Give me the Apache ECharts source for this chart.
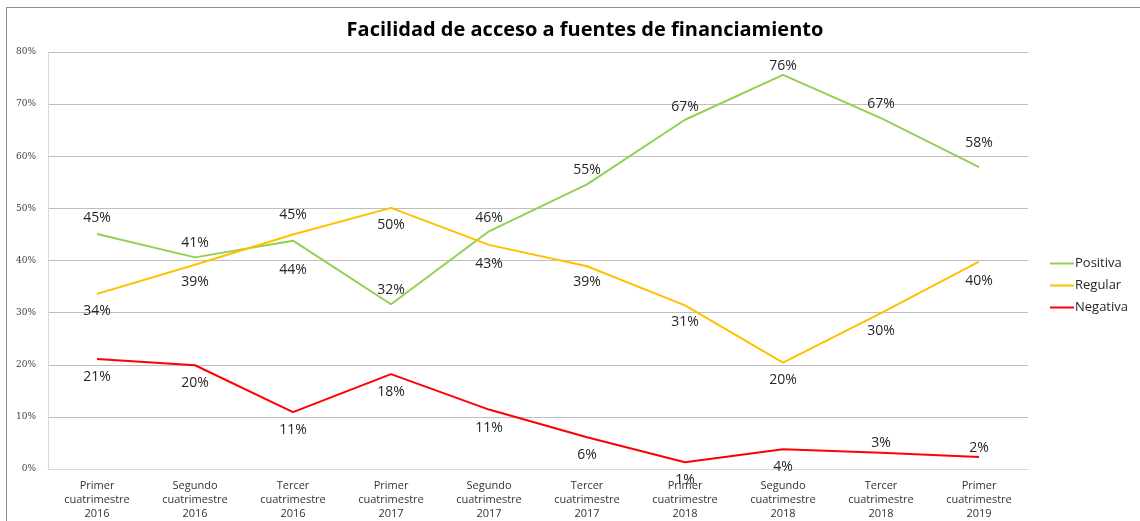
<!DOCTYPE html>
<html lang="es">
    <head>
        <meta charset="UTF-8" />
        <title>Facilidad de acceso a fuentes de financiamiento</title>
        <script src="https://cdn.jsdelivr.net/npm/echarts@6/dist/echarts.min.js"></script>
        <style>
            html, body { margin: 0; padding: 0; background: #fff; overflow: hidden; }
            .frame {
                position: absolute; left: 6px; top: 7px; width: 1300px; height: 700px;
                border-top: 1px solid #8c8c8c; border-left: 1px solid #8c8c8c;
            }
            #chart { position: absolute; left: 0; top: 0; width: 1140px; height: 521px; }
        </style>
    </head>
    <body>
        <div class="frame"></div>
        <div id="chart"></div>

        <script>
            var categories = [
                'Primer\ncuatrimestre\n2016',
                'Segundo\ncuatrimestre\n2016',
                'Tercer\ncuatrimestre\n2016',
                'Primer\ncuatrimestre\n2017',
                'Segundo\ncuatrimestre\n2017',
                'Tercer\ncuatrimestre\n2017',
                'Primer\ncuatrimestre\n2018',
                'Segundo\ncuatrimestre\n2018',
                'Tercer\ncuatrimestre\n2018',
                'Primer\ncuatrimestre\n2019'
            ];
            var positiva = [45.1, 40.6, 43.8, 31.6, 45.6, 54.6, 67.0, 75.6, 67.3, 57.9];
            var regular = [33.6, 39.2, 45.0, 50.1, 43.0, 38.9, 31.4, 20.4, 29.9, 39.8];
            var negativa = [21.1, 19.9, 10.9, 18.2, 11.4, 6.1, 1.3, 3.8, 3.1, 2.3];
            var yTicks = [0, 10, 20, 30, 40, 50, 60, 70, 80];

            // where each value label sits (above / below the point) and how far from it
            var posLabels = ['top', 'top', 'bottom', 'top', 'top', 'top', 'top', 'top', 'top', 'top'];
            var posGap = [9, 7, 22, 7, 6, 7, 6, 2, 7, 17];
            var regLabels = ['bottom', 'bottom', 'top', 'bottom', 'bottom', 'bottom', 'bottom', 'bottom', 'bottom', 'bottom'];
            var regGap = [10, 10, 12, 10, 12, 9, 10, 10, 11, 12];
            var negLabels = ['bottom', 'bottom', 'bottom', 'bottom', 'bottom', 'bottom', 'bottom', 'bottom', 'top', 'top'];
            var negGap = [11, 11, 11, 11, 11, 11, 11, 11, 3, 2];

            function withLabels(values, places, gaps) {
                return values.map(function (v, i) {
                    return { value: v, label: { position: places[i], distance: gaps[i] } };
                });
            }

            function lineSeries(name, color, values, places, gaps) {
                return {
                    name: name,
                    type: 'line',
                    data: withLabels(values, places, gaps),
                    symbol: 'circle',
                    symbolSize: 0.01,
                    showSymbol: true,
                    lineStyle: { color: color, width: 2 },
                    itemStyle: { color: color },
                    label: {
                        show: true,
                        color: '#262626',
                        fontSize: 14,
                        fontFamily: 'Open Sans',
                        formatter: function (p) {
                            return Math.round(p.value) + '%';
                        }
                    },
                    labelLayout: { hideOverlap: false },
                    emphasis: { disabled: true }
                };
            }

            var element = document.getElementById('chart');
            const myChart = echarts.init(element);

            var option = {
                animation: false,
                title: {
                    text: 'Facilidad de acceso a fuentes de financiamiento',
                    left: 580,
                    textAlign: 'center',
                    top: 15,
                    textStyle: {
                        fontFamily: 'Open Sans',
                        fontWeight: 'bold',
                        fontSize: 20,
                        color: '#000'
                    }
                },
                legend: {
                    orient: 'vertical',
                    left: 1045,
                    top: 252,
                    itemGap: 9,
                    itemWidth: 24,
                    itemHeight: 2,
                    icon: 'rect',
                    data: ['Positiva', 'Regular', 'Negativa'],
                    textStyle: {
                        fontFamily: 'Open Sans',
                        fontSize: 13,
                        color: '#262626',
                        padding: [0, 0, 0, -4]
                    }
                },
                grid: {
                    left: 48,
                    right: 112,
                    top: 52,
                    bottom: 51
                },
                xAxis: {
                    type: 'category',
                    data: categories,
                    boundaryGap: true,
                    axisLine: { lineStyle: { color: '#d9d9d9' } },
                    axisTick: { show: false },
                    axisLabel: {
                        interval: 0,
                        margin: 10,
                        color: '#333',
                        fontSize: 11,
                        lineHeight: 14,
                        fontFamily: 'Open Sans'
                    }
                },
                yAxis: {
                    type: 'value',
                    min: yTicks[0],
                    max: yTicks[yTicks.length - 1],
                    interval: 10,
                    axisLine: { show: true, lineStyle: { color: '#d9d9d9' } },
                    axisTick: { show: false },
                    splitLine: { lineStyle: { color: '#bfbfbf' } },
                    axisLabel: {
                        formatter: '{value}%',
                        color: '#404040',
                        fontSize: 9,
                        fontFamily: 'DejaVu Serif',
                        margin: 12
                    }
                },
                series: [
                    lineSeries('Positiva', '#92d050', positiva, posLabels, posGap),
                    lineSeries('Regular', '#ffc000', regular, regLabels, regGap),
                    lineSeries('Negativa', '#ff0000', negativa, negLabels, negGap)
                ]
            };
            myChart.setOption(option, true);
        </script>
    </body>
</html>
